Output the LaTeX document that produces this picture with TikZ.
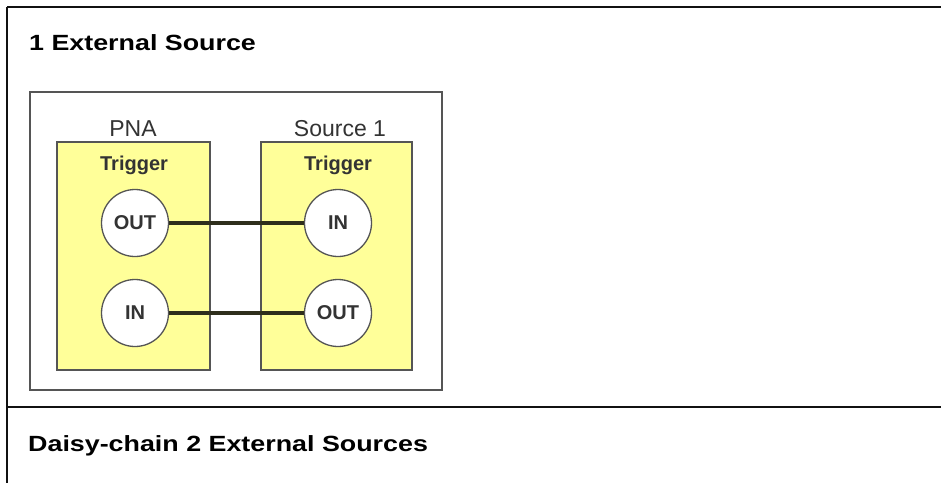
\documentclass[tikz,border=0pt]{standalone}
\usepackage{fontspec}
\setmainfont{Liberation Sans}
\definecolor{frameblk}{HTML}{111111}
\definecolor{boxgray}{HTML}{555555}
\definecolor{yel}{HTML}{FFFF99}
\definecolor{dtext}{HTML}{333333}
\definecolor{wire}{HTML}{2E2E1C}
\tikzset{
  heading/.style={anchor=base west, inner sep=0pt, font=\fontsize{22}{26}\selectfont\bfseries, text=black},
  devlabel/.style={anchor=base, inner sep=0pt, font=\fontsize{23}{27}\selectfont, text=dtext},
  trig/.style={anchor=base, inner sep=0pt, font=\fontsize{20}{24}\selectfont\bfseries, text=dtext},
  port/.style={circle, draw=boxgray, line width=1.3pt, fill=white, minimum size=67pt, inner sep=0pt, font=\fontsize{20}{24}\selectfont\bfseries, text=dtext},
  panel/.style={draw=boxgray, line width=1.3pt, fill=yel},
  wireline/.style={draw=wire, line width=3.3pt},
  framerule/.style={draw=frameblk, line width=2.5pt}
}
\newcommand{\widetxt}[1]{\scalebox{1.22}[1]{#1}}
\begin{document}
\begin{tikzpicture}[x=1pt,y=-1pt]
\useasboundingbox (0,0) rectangle (941,483);
\fill[white] (0,0) rectangle (941,483);
% frame
\coordinate (tl) at (7,7);
\coordinate (tr) at (941,7);
\coordinate (bl) at (7,483);
\coordinate (ml) at (7,407);
\coordinate (mr) at (941,407);
\draw[framerule] (tl) -- (tr);
\draw[framerule] (ml) -- (mr);
\draw[draw=frameblk, line width=2pt] (tl) -- (bl);
% headings
\node[heading] (h1) at (29,50) {\widetxt{1 External Source}};
\node[heading] (h2) at (28,451) {\widetxt{Daisy-chain 2 External Sources}};
% diagram box
\draw[draw=boxgray, line width=1.5pt, fill=white] (30,92) rectangle (442,390);
% panels
\draw[panel] (57,142) rectangle (210,370);
\draw[panel] (261,142) rectangle (412,370);
\node[devlabel] (pna) at (133,136) {PNA};
\node[devlabel] (src) at (340,136) {Source 1};
\node[trig] (tpna) at (134,170) {Trigger};
\node[trig] (tsrc) at (338,170) {Trigger};
% ports
\node[port] (pout) at (135,223) {OUT};
\node[port] (pin) at (135,313) {IN};
\node[port] (sin) at (338,223) {IN};
\node[port] (sout) at (338,313) {OUT};
% wires
\draw[wireline] (pout.east) -- (sin.west);
\draw[wireline] (pin.east) -- (sout.west);
\end{tikzpicture}
\end{document}
